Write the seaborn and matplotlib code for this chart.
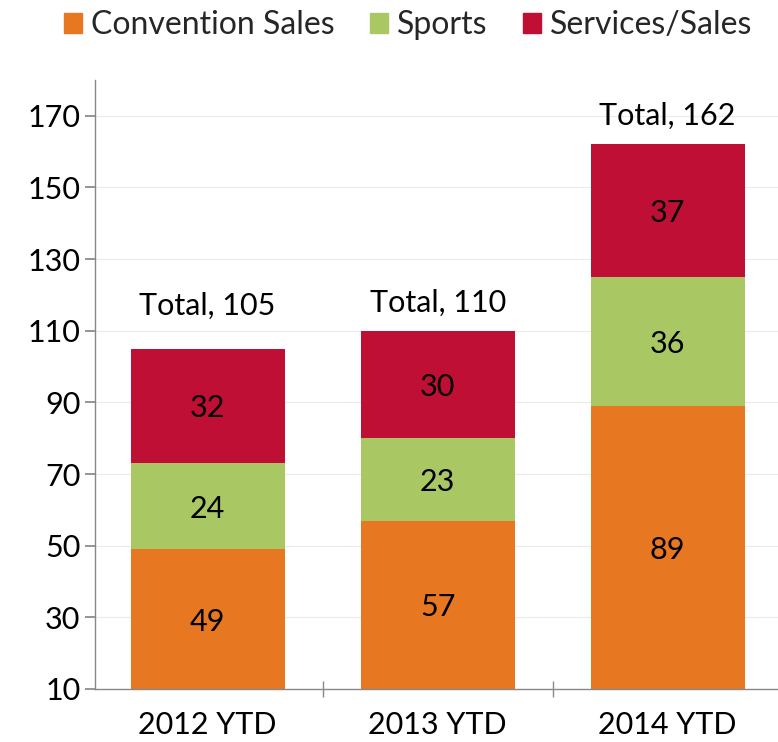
import matplotlib

matplotlib.use("Agg")

import matplotlib.pyplot as plt
import numpy as np
import pandas as pd
import seaborn as sns
from matplotlib.patches import Patch

sns.set_theme(style="white")
plt.rcParams["font.family"] = ["Lato", "DejaVu Sans"]

periods = ["2012 YTD", "2013 YTD", "2014 YTD"]
convention = [49, 57, 89]
sports = [24, 23, 36]
services = [32, 30, 37]
series_names = ["Convention Sales", "Sports", "Services/Sales"]
colors = ["#E87722", "#A9C864", "#C00F35"]
yticks = [10, 30, 50, 70, 90, 110, 130, 150, 170]

df = pd.DataFrame({"period": periods, "Convention Sales": convention,
                   "Sports": sports, "Services/Sales": services})

FS = 22
YMIN, YMAX = 10, 180
# pixel gap between bar top and the "Total" label baseline
TOTAL_GAP = [34, 19, 20]

fig = plt.figure(figsize=(7.78, 7.42), dpi=100)
ax = fig.add_axes([95 / 778, 1 - 689 / 742, 683 / 778, 609 / 742])
ax.set_axisbelow(True)
ax.yaxis.grid(True, color="#EBEBEB", linewidth=0.8)

bottom = np.zeros(len(df))
for name, col in zip(series_names, colors):
    sns.barplot(data=df, x="period", y=name, color=col, width=0.67,
                bottom=bottom, ax=ax, saturation=1, linewidth=0)
    for i, v in enumerate(df[name]):
        # centre label in the visible part of the segment
        mid = (max(bottom[i], YMIN) + bottom[i] + v) / 2
        ax.text(i, mid, f"{v}", ha="center", va="center_baseline",
                fontsize=FS, color="black")
    bottom = bottom + df[name].to_numpy()

for i, tot in enumerate(bottom):
    ax.annotate(f"Total, {int(tot)}", (i, tot), xytext=(0, TOTAL_GAP[i]),
                textcoords="offset pixels", ha="center", va="baseline",
                fontsize=FS, color="black")

ax.set_ylim(YMIN, YMAX)
ax.set_xlim(-0.49, 2.48)
ax.set_yticks(yticks)
ax.set_xticks([0.5, 1.5], minor=True)
ax.set_xlabel("")
ax.set_ylabel("")
ax.tick_params(axis="y", labelsize=FS, labelcolor="black", left=True,
               length=7, color="#888888")
ax.tick_params(axis="x", which="major", labelsize=FS, labelcolor="black",
               bottom=False, pad=10)
ax.tick_params(axis="x", which="minor", bottom=True, direction="inout",
               length=12, color="#888888")
for s in ["top", "right"]:
    ax.spines[s].set_visible(False)
for s in ["left", "bottom"]:
    ax.spines[s].set_color("#888888")
    ax.spines[s].set_linewidth(1)

handles = [Patch(color=c, label=n) for n, c in zip(series_names, colors)]
fig.legend(handles=handles, loc="upper center", bbox_to_anchor=(0.525, 1.025),
           ncol=3, frameon=False, fontsize=23, handlelength=0.55,
           handleheight=0.55, handletextpad=0.3, columnspacing=1.1)

fig.savefig("out.png", dpi=100)
